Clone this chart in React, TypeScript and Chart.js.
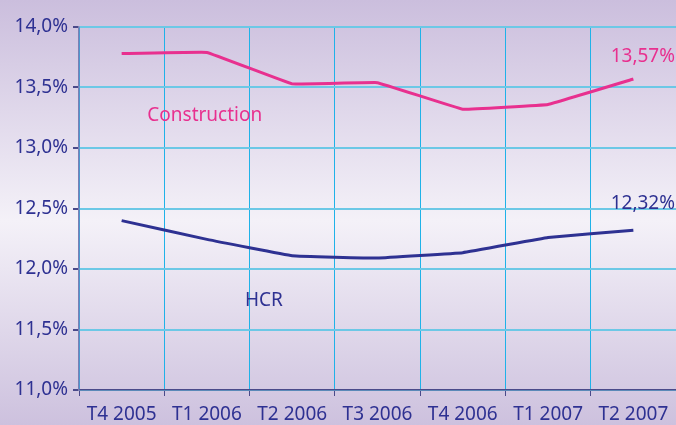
import React, { useEffect, useRef } from "react";
import { Chart, registerables } from "chart.js";

Chart.register(...registerables);

const categories = ["T4 2005", "T1 2006", "T2 2006", "T3 2006", "T4 2006", "T1 2007", "T2 2007"];
const construction = [13.78, 13.79, 13.53, 13.54, 13.32, 13.36, 13.57];
const hcr = [12.4, 12.245, 12.11, 12.09, 12.135, 12.26, 12.32];
const yTicks = [11, 11.5, 12, 12.5, 13, 13.5, 14];

const PINK = "#e8308f";
const NAVY = "#2e3192";
const CYAN = "#1fb2e8";
const FONT = "'Noto Sans', sans-serif";

const fmt = (v: number, d: number) => v.toFixed(d).replace(".", ",") + "%";

const bgPlugin = {
  id: "bg",
  beforeDraw(chart: any) {
    const { ctx, width, height } = chart;
    const g = ctx.createLinearGradient(0, 0, 0, height);
    g.addColorStop(0, "#cbbedd");
    g.addColorStop(0.52, "#f4f1f8");
    g.addColorStop(1, "#cdc1de");
    ctx.save();
    ctx.fillStyle = g;
    ctx.fillRect(0, 0, width, height);
    ctx.restore();
  },
};

const labelPlugin = {
  id: "labels",
  afterDatasetsDraw(chart: any) {
    const { ctx } = chart;
    const x = chart.scales.x;
    const y = chart.scales.y;
    ctx.save();
    ctx.font = `19px ${FONT}`;
    ctx.textBaseline = "middle";
    ctx.textAlign = "left";
    ctx.fillStyle = PINK;
    ctx.fillText("Construction", (x.getPixelForValue(0) + x.getPixelForValue(1)) / 2 - 17, y.getPixelForValue(13.27));
    ctx.textAlign = "right";
    ctx.fillText(fmt(construction[6], 2), chart.width - 1, y.getPixelForValue(construction[6]) - 22);
    ctx.fillStyle = NAVY;
    ctx.textAlign = "left";
    ctx.fillText("HCR", x.getPixelForValue(1) + 38, y.getPixelForValue(11.74));
    ctx.textAlign = "right";
    ctx.fillText(fmt(hcr[6], 2), chart.width - 1, y.getPixelForValue(hcr[6]) - 27);
    ctx.restore();
  },
};

export default function App() {
  const ref = useRef<HTMLCanvasElement>(null);
  useEffect(() => {
    document.body.style.margin = "0";
    const chart = new Chart(ref.current!, {
      type: "line",
      data: {
        labels: categories,
        datasets: [
          { data: construction, borderColor: PINK, borderWidth: 3, pointRadius: 0, tension: 0.04, fill: false },
          { data: hcr, borderColor: NAVY, borderWidth: 3, pointRadius: 0, tension: 0.06, fill: false },
        ],
      },
      options: {
        animation: false,
        responsive: false,
        devicePixelRatio: 1,
        layout: { padding: { top: 27, right: 0, left: 0, bottom: 0 } },
        plugins: { legend: { display: false }, tooltip: { enabled: false } },
        scales: {
          x: {
            offset: true,
            grid: { offset: true, color: CYAN, lineWidth: 1, tickColor: "#4a4a8a", tickLength: 6, drawOnChartArea: true },
            border: { color: "#4a4a8a", width: 1.5 },
            ticks: { color: NAVY, font: { family: FONT, size: 19 }, padding: 7, maxRotation: 0, autoSkip: false },
            afterFit(s: any) { s.height = 35; },
          },
          y: {
            min: 11,
            max: 14,
            afterBuildTicks(s: any) { s.ticks = yTicks.map((v) => ({ value: v })); },
            grid: { color: "#6cc8e6", lineWidth: 2, tickColor: "#4a4a8a", tickLength: 6 },
            border: { color: "#7c7fb4", width: 1.5 },
            ticks: {
              color: NAVY,
              font: { family: FONT, size: 19 },
              padding: 5,
              callback: (v: any) => fmt(Number(v), 1),
            },
            afterFit(s: any) { s.width = 79; },
          },
        },
      },
      plugins: [bgPlugin, labelPlugin],
    });
    return () => chart.destroy();
  }, []);
  return (
    <div style={{ width: 676, height: 425 }}>
      <canvas ref={ref} width={676} height={425} />
    </div>
  );
}
